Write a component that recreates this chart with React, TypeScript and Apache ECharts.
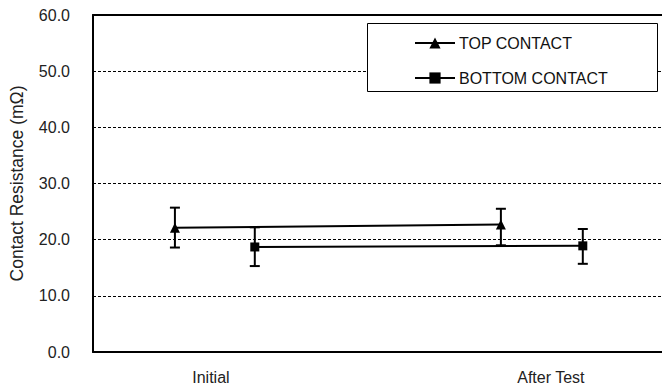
import React, { useEffect, useRef } from "react";
import * as echarts from "echarts";

const categories = ["Initial", "After Test"];
const categoryPos = [1, 2];

const topX = [0.894, 1.853];
const topMean = [22.1, 22.7];
const topHigh = [25.7, 25.5];
const topLow = [18.6, 19.0];

const bottomX = [1.129, 2.094];
const bottomMean = [18.7, 18.9];
const bottomHigh = [22.2, 21.9];
const bottomLow = [15.3, 15.7];

const yTicks = [0, 10, 20, 30, 40, 50, 60];

const FONT = "'Liberation Sans', Arial, sans-serif";
const X_MIN = 0.653;
const X_MAX = 2.327;

export default function App() {
  const ref = useRef<HTMLDivElement>(null);
  useEffect(() => {
    if (!ref.current) return;
    const chart = echarts.init(ref.current, null, { renderer: "svg" });

    const errData = (xs: number[], lo: number[], hi: number[]) =>
      xs.map((x, i) => [x, lo[i], hi[i]]);

    const errorSeries = (name: string, data: number[][]) => ({
      type: "custom",
      name: name + "-err",
      z: 3,
      silent: true,
      renderItem: (params: any, api: any) => {
        const x = api.value(0);
        const lo = api.coord([x, api.value(1)]);
        const hi = api.coord([x, api.value(2)]);
        const hw = 5;
        const st = { stroke: "#000", lineWidth: 2 };
        return {
          type: "group",
          children: [
            { type: "line", shape: { x1: lo[0], y1: lo[1], x2: hi[0], y2: hi[1] }, style: st },
            { type: "line", shape: { x1: lo[0] - hw, y1: lo[1], x2: lo[0] + hw, y2: lo[1] }, style: st },
            { type: "line", shape: { x1: hi[0] - hw, y1: hi[1], x2: hi[0] + hw, y2: hi[1] }, style: st },
          ],
        };
      },
      encode: { x: 0, y: [1, 2] },
      data,
    });

    chart.setOption({
      animation: false,
      backgroundColor: "#fff",
      textStyle: { fontFamily: FONT },
      grid: {
        left: 93,
        top: 15,
        height: 337,
        right: 0,
        show: false,
      },
      xAxis: [
        {
          type: "value",
          min: X_MIN,
          max: X_MAX,
          axisLine: { show: true, lineStyle: { color: "#000", width: 2 } },
          axisTick: { show: false },
          splitLine: { show: false },
          axisLabel: {
            customValues: categoryPos,
            formatter: (v: number) => {
              const i = categoryPos.indexOf(v);
              return i >= 0 ? categories[i] : "";
            },
            fontSize: 16,
            color: "#222",
            fontFamily: FONT,
            margin: 17,
          },
        },
        {
          type: "value",
          position: "top",
          min: X_MIN,
          max: X_MAX,
          axisLine: { show: true, lineStyle: { color: "#000", width: 2 } },
          axisTick: { show: false },
          splitLine: { show: false },
          axisLabel: { show: false },
        },
      ],
      yAxis: {
        type: "value",
        min: 0,
        max: 60,
        interval: 10,
        name: "Contact Resistance (mΩ)",
        nameLocation: "middle",
        nameGap: 67,
        nameTextStyle: { fontSize: 17.5, color: "#222", fontFamily: FONT },
        axisLine: { show: true, lineStyle: { color: "#000", width: 2 } },
        axisTick: { show: false },
        axisLabel: {
          formatter: (v: number) => (yTicks.includes(v) ? v.toFixed(1) : ""),
          fontSize: 16,
          color: "#222",
          fontFamily: FONT,
          margin: 23,
        },
        splitLine: { show: true, lineStyle: { color: "#000", width: 1, type: [3, 2] } },
      },
      legend: {
        orient: "vertical",
        left: 414,
        top: 35,
        itemWidth: 40,
        itemHeight: 14,
        itemGap: 19,
        padding: 0,
        z: 6,
        data: ["TOP CONTACT", "BOTTOM CONTACT"],
        textStyle: { fontSize: 16, color: "#111", fontFamily: FONT, padding: [0, 0, 0, -1] },
      },
      graphic: [
        {
          type: "rect",
          z: 5,
          shape: { x: 367.5, y: 23.5, width: 290, height: 68 },
          style: { fill: "#fff", stroke: "#000", lineWidth: 1 },
        },
      ],
      series: [
        {
          type: "line",
          name: "TOP CONTACT",
          z: 4,
          data: topX.map((x, i) => [x, topMean[i]]),
          symbol: "triangle",
          symbolSize: 10,
          lineStyle: { color: "#000", width: 2 },
          itemStyle: { color: "#000" },
        },
        {
          type: "line",
          name: "BOTTOM CONTACT",
          z: 4,
          data: bottomX.map((x, i) => [x, bottomMean[i]]),
          symbol: "rect",
          symbolSize: 9,
          lineStyle: { color: "#000", width: 2 },
          itemStyle: { color: "#000" },
        },
        errorSeries("TOP CONTACT", errData(topX, topLow, topHigh)),
        errorSeries("BOTTOM CONTACT", errData(bottomX, bottomLow, bottomHigh)),
      ],
    });
    return () => chart.dispose();
  }, []);

  return (
    <div
      ref={ref}
      style={{ position: "fixed", left: 0, top: 0, width: 662, height: 389, background: "#fff" }}
    />
  );
}
